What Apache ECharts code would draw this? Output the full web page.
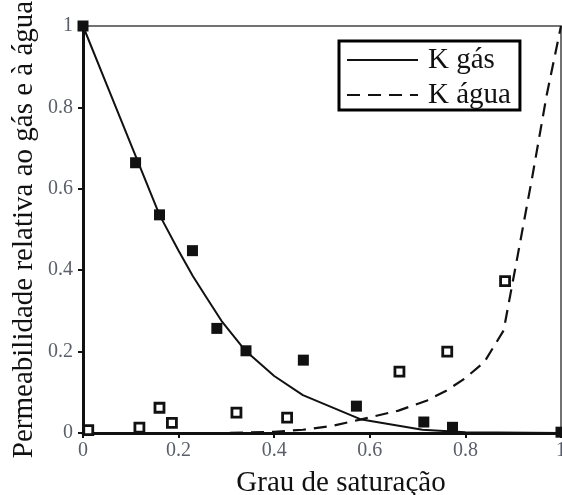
<!DOCTYPE html>
<html>
<head>
<meta charset="utf-8">
<script src="https://cdn.jsdelivr.net/npm/echarts@6/dist/echarts.min.js"></script>
<style>html,body{margin:0;padding:0;background:#fff}#c{width:562px;height:495px}</style>
</head>
<body>
<div id="c"></div>
<script>
// Fitted curves
var gasCurveX = [0, 0.05, 0.1, 0.16, 0.2, 0.23, 0.26, 0.29, 0.34, 0.4, 0.46, 0.58, 0.71, 0.8, 1.0];
var gasCurveY = [1, 0.855, 0.71, 0.536, 0.448, 0.385, 0.33, 0.275, 0.202, 0.14, 0.093, 0.034, 0.008, 0.002, 0];
var waterCurveX = [0, 0.3, 0.4, 0.46, 0.52, 0.58, 0.66, 0.72, 0.76, 0.8, 0.84, 0.88, 0.91, 0.94, 0.97, 1.0];
var waterCurveY = [0, 0, 0.003, 0.008, 0.017, 0.033, 0.055, 0.08, 0.104, 0.135, 0.175, 0.252, 0.44, 0.63, 0.83, 1.0];
// Measured points
var gasPtsX = [0, 0.11, 0.16, 0.229, 0.28, 0.341, 0.461, 0.572, 0.713, 0.773, 1.0];
var gasPtsY = [1, 0.664, 0.536, 0.448, 0.257, 0.202, 0.179, 0.066, 0.027, 0.014, 0.002];
var waterPtsX = [0.011, 0.118, 0.16, 0.186, 0.321, 0.427, 0.662, 0.762, 0.883];
var waterPtsY = [0.007, 0.013, 0.062, 0.025, 0.05, 0.038, 0.151, 0.2, 0.373];
var xTicks = [0, 0.2, 0.4, 0.6, 0.8, 1];
var yTicks = [0, 0.2, 0.4, 0.6, 0.8, 1];

function zip(a, b) { return a.map(function (v, i) { return [v, b[i]]; }); }
var serif = '"Liberation Serif", "DejaVu Serif", serif';
function fmt(v) { return xTicks.indexOf(v) >= 0 || yTicks.indexOf(v) >= 0 ? String(v) : ''; }

var chart = echarts.init(document.getElementById('c'), null, {renderer: 'canvas'});
chart.setOption({
  animation: false,
  backgroundColor: '#fff',
  grid: {left: 83, right: 1, top: 26, bottom: 62, outerBoundsMode: 'none', containLabel: false,
         show: true, borderColor: '#444', borderWidth: 1.5, backgroundColor: 'transparent'},
  legend: {
    data: ['K gás', 'K água'],
    orient: 'vertical',
    left: 339, top: 41,
    itemWidth: 71, itemHeight: 2, itemGap: 5,
    padding: [4, 9, 0, 7],
    borderColor: '#000', borderWidth: 3,
    backgroundColor: '#fff',
    itemStyle: {color: 'rgba(0,0,0,0)', borderWidth: 0, opacity: 0},
    textStyle: {fontFamily: serif, fontSize: 29, color: '#111', lineHeight: 30, padding: [0, 0, 0, 5]}
  },
  xAxis: {
    type: 'value', min: 0, max: 1, interval: 0.2,
    name: 'Grau de saturação', nameLocation: 'middle', nameGap: 36, nameMoveOverlap: false,
    nameTextStyle: {fontFamily: serif, fontSize: 29, color: '#111', padding: [0, 0, 0, 38]},
    axisLine: {lineStyle: {color: '#111', width: 3}},
    axisTick: {show: true, inside: false, length: 5, lineStyle: {color: '#111', width: 2}},
    axisLabel: {fontFamily: serif, fontSize: 20, color: '#5a5f6a', margin: 8, formatter: fmt},
    splitLine: {show: false}
  },
  yAxis: {
    type: 'value', min: 0, max: 1, interval: 0.2,
    name: 'Permeabilidade relativa ao gás e à água', nameLocation: 'middle', nameGap: 44, nameRotate: 90,
    nameMoveOverlap: false,
    nameTextStyle: {fontFamily: serif, fontSize: 29, color: '#111'},
    axisLine: {lineStyle: {color: '#111', width: 3}},
    axisTick: {show: true, inside: false, length: 5, lineStyle: {color: '#111', width: 2}},
    axisLabel: {fontFamily: serif, fontSize: 20, color: '#5a5f6a', margin: 10, formatter: fmt},
    splitLine: {show: false}
  },
  series: [
    {name: 'K gás', type: 'line', data: zip(gasCurveX, gasCurveY), showSymbol: false, symbol: 'none',
     lineStyle: {color: '#111', width: 2, type: 'solid'}, itemStyle: {color: '#111'}, z: 2},
    {name: 'K água', type: 'line', data: zip(waterCurveX, waterCurveY), showSymbol: false, symbol: 'none',
     lineStyle: {color: '#111', width: 2.2, type: [13, 8]}, itemStyle: {color: '#111'}, z: 2},
    {name: 'gas pts', type: 'scatter', data: zip(gasPtsX, gasPtsY), symbol: 'rect', symbolSize: 11,
     itemStyle: {color: '#111', opacity: 1}, z: 3},
    {name: 'water pts', type: 'scatter', data: zip(waterPtsX, waterPtsY), symbol: 'rect', symbolSize: 9,
     itemStyle: {color: '#fff', borderColor: '#111', borderWidth: 2.8, opacity: 1}, z: 3}
  ]
});
</script>
</body>
</html>
